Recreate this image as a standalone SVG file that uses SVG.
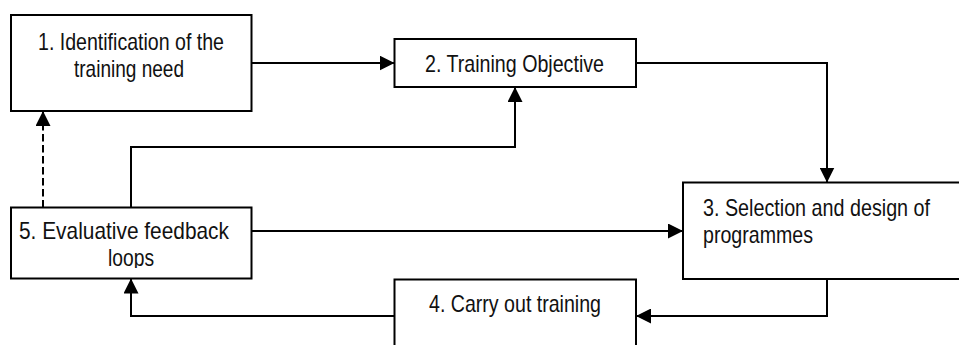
<svg xmlns="http://www.w3.org/2000/svg" width="959" height="345" viewBox="0 0 959 345">
  <style>
    .box { fill: #ffffff; stroke: #000000; stroke-width: 2; }
    .lbl { font-family: "Liberation Sans", Arial, sans-serif; font-size: 24px; fill: #111111; }
    .link { fill: none; stroke: #000000; stroke-width: 2; marker-end: url(#head); }
    .dash { stroke-dasharray: 7.5 3.5; }
  </style>
  <defs>
    <marker id="head" markerUnits="userSpaceOnUse" markerWidth="15" markerHeight="15" refX="15" refY="7.5" orient="auto">
      <path d="M0,0 L15,7.5 L0,15 Z" fill="#000000" stroke="none"/>
    </marker>
    <!-- the second line of node 5 is trimmed just below its baseline -->
    <clipPath id="cut5">
      <rect x="0" y="200" width="260" height="68"/>
    </clipPath>
  </defs>

  <rect width="959" height="345" fill="#ffffff"/>

  <g id="node1">
    <rect class="box" x="11" y="15" width="240.5" height="96"/>
    <text class="lbl" x="38" y="50" textLength="186" lengthAdjust="spacingAndGlyphs">1. Identification of the</text>
    <text class="lbl" x="74" y="76.5" textLength="110" lengthAdjust="spacingAndGlyphs">training need</text>
  </g>

  <g id="node2">
    <rect class="box" x="394.5" y="39" width="241.5" height="48"/>
    <text class="lbl" x="425" y="72" textLength="179" lengthAdjust="spacingAndGlyphs">2. Training Objective</text>
  </g>

  <g id="node3">
    <!-- right edge sits just past the canvas border -->
    <rect class="box" x="683" y="182.5" width="278" height="96.5"/>
    <text class="lbl" x="703" y="215.5" textLength="227" lengthAdjust="spacingAndGlyphs">3. Selection and design of</text>
    <text class="lbl" x="703" y="243" textLength="110" lengthAdjust="spacingAndGlyphs">programmes</text>
  </g>

  <g id="node4">
    <rect class="box" x="394.5" y="279.5" width="241.5" height="80"/>
    <text class="lbl" x="429" y="312" textLength="172" lengthAdjust="spacingAndGlyphs">4. Carry out training</text>
  </g>

  <g id="node5">
    <rect class="box" x="11" y="207.5" width="240.5" height="71"/>
    <text class="lbl" x="19" y="239" textLength="210" lengthAdjust="spacingAndGlyphs">5. Evaluative feedback</text>
    <text class="lbl" x="108" y="266" textLength="46" lengthAdjust="spacingAndGlyphs" clip-path="url(#cut5)">loops</text>
  </g>

  <g id="connectors">
    <path class="link" d="M251.5,63 H394.5"/>
    <path class="link" d="M636,63 H827 V182.5"/>
    <path class="link" d="M827,279 V316 H636"/>
    <path class="link" d="M394.5,316 H131 V278.5"/>
    <path class="link" d="M131,207.5 V147 H515 V87"/>
    <path class="link" d="M251.5,231 H683"/>
    <path class="link dash" d="M43,207.5 V111"/>
  </g>
</svg>
